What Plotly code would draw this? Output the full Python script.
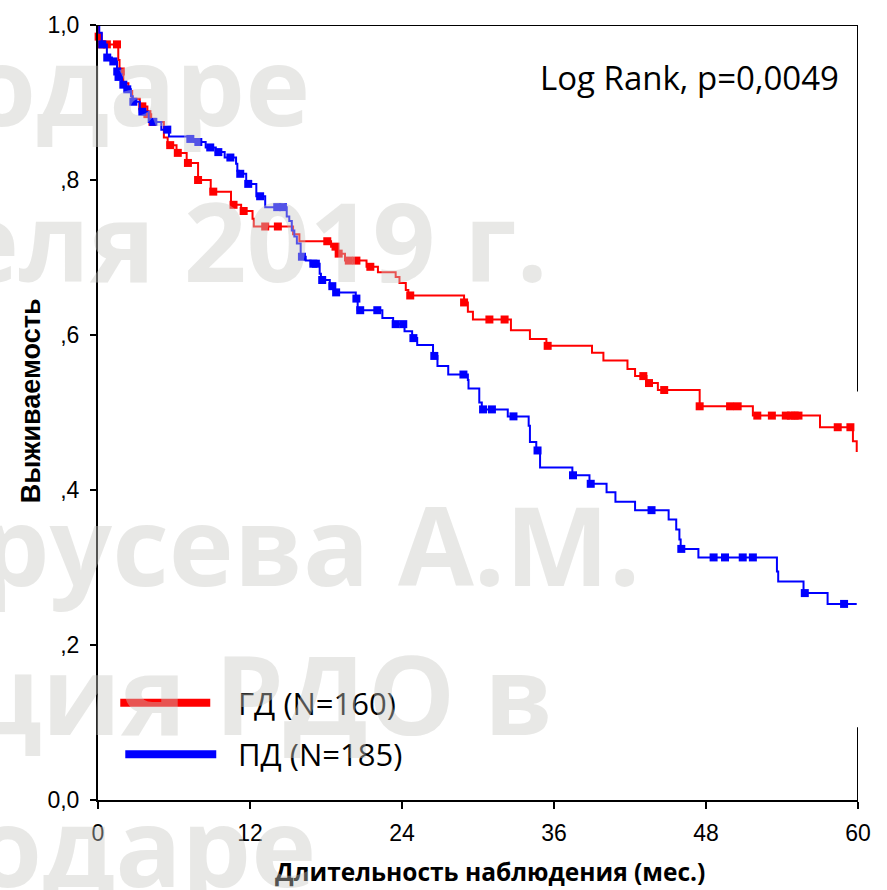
import numpy as np
import plotly.graph_objects as go

# ---------------- data ----------------
# ГД group (red): Kaplan-Meier step times (months) and survival after each step
gd_event_t = [0.05, 0.25, 1.6, 1.7, 2.0, 2.4, 2.7, 3.3, 3.9, 4.2, 5.2, 5.5, 6.2, 7.0, 7.9,
              8.9, 10.5, 11.3, 12.2, 12.3, 15.4, 15.9, 18.4, 18.9, 19.5, 21.2, 22.1, 23.5,
              23.8, 24.3, 24.5, 28.9, 29.2, 29.6, 32.6, 34.1, 35.4, 39.0, 39.9, 41.8, 42.4,
              43.3, 44.2, 47.5, 51.7, 57.0, 59.6, 59.9]
gd_event_s = [0.985, 0.975, 0.955, 0.94, 0.925, 0.915, 0.905, 0.895, 0.885, 0.875, 0.855,
              0.845, 0.835, 0.822, 0.80, 0.785, 0.768, 0.76, 0.75, 0.74, 0.73, 0.721, 0.714,
              0.705, 0.696, 0.688, 0.681, 0.675, 0.667, 0.658, 0.651, 0.642, 0.63, 0.62,
              0.606, 0.595, 0.586, 0.577, 0.567, 0.556, 0.547, 0.538, 0.529, 0.508, 0.496,
              0.481, 0.463, 0.449]
gd_censor_t = [0.05, 0.25, 0.7, 1.5, 1.8, 3.5, 3.9, 4.3, 5.7, 6.3, 7.1, 7.9, 9.1, 10.7, 11.5,
               13.2, 14.2, 18.1, 18.75, 19.0, 19.8, 20.4, 21.5, 24.65, 28.9, 30.9, 32.1,
               35.5, 43.05, 43.5, 44.7, 47.5, 49.9, 50.5, 52.05, 53.2, 54.3, 54.7, 55.0,
               55.3, 58.4, 59.4]

# ПД group (blue)
pd_event_t = [0.1, 0.3, 0.7, 1.1, 1.5, 1.6, 1.9, 2.2, 2.6, 2.75, 3.3, 4.0, 5.0, 5.6, 7.1,
              7.6, 8.5, 9.3, 10.0, 10.9, 11.0, 11.1, 11.7, 12.5, 13.2, 14.9, 15.1, 15.3,
              15.5, 15.7, 16.0, 16.4, 16.8, 17.5, 17.6, 18.3, 18.7, 20.35, 20.5, 22.45,
              23.3, 24.2, 24.8, 25.2, 26.45, 26.8, 27.65, 29.2, 29.25, 30.1, 30.3, 32.35,
              34.0, 34.1, 34.6, 34.9, 37.45, 38.8, 40.15, 40.85, 42.4, 45.05, 45.65, 45.9,
              46.0, 47.4, 53.6, 53.7, 55.7, 57.6]
pd_event_s = [0.99, 0.975, 0.958, 0.953, 0.94, 0.933, 0.923, 0.917, 0.908, 0.901, 0.888,
              0.875, 0.865, 0.856, 0.853, 0.849, 0.842, 0.836, 0.829, 0.821, 0.812, 0.808,
              0.795, 0.779, 0.765, 0.753, 0.747, 0.735, 0.727, 0.718, 0.701, 0.696, 0.692,
              0.679, 0.671, 0.663, 0.655, 0.647, 0.632, 0.622, 0.614, 0.605, 0.596, 0.587,
              0.573, 0.56, 0.549, 0.542, 0.531, 0.513, 0.504, 0.495, 0.483, 0.462, 0.451,
              0.429, 0.419, 0.408, 0.397, 0.385, 0.374, 0.362, 0.349, 0.336, 0.324, 0.313,
              0.295, 0.282, 0.267, 0.253]
pd_censor_t = [0.34, 0.73, 1.21, 1.52, 1.62, 2.0, 2.31, 2.79, 3.5, 4.37, 5.47, 7.29, 7.92,
               8.86, 9.5, 10.45, 11.23, 11.86, 12.8, 14.15, 14.6, 16.1, 17.0, 17.2, 17.7,
               18.5, 18.8, 20.4, 20.7, 22.05, 23.5, 24.1, 24.9, 26.55, 28.85, 30.4, 31.1,
               32.8, 34.7, 37.5, 38.9, 43.7, 46.05, 48.6, 49.5, 50.9, 51.7, 55.8, 58.9]

follow_up_end = 59.9
x_ticks = [0, 12, 24, 36, 48, 60]
y_ticks = [0.0, 0.2, 0.4, 0.6, 0.8, 1.0]
y_ticktext = ["0,0", ",2", ",4", ",6", ",8", "1,0"]
group_labels = ["ГД (N=160)", "ПД (N=185)"]
logrank_text = "Log Rank, p=0,0049"
watermark_lines = ["одаре", "еля 2019 г.", "русева А.М.", "ция РДО в", "одаре"]

RED = "#ff0000"
BLUE = "#0000ff"


def km_line(ev_t, ev_s, end):
    xs = [0.0] + list(ev_t) + [end]
    ys = [1.0] + list(ev_s) + [ev_s[-1]]
    return xs, ys


def censor_y(ev_t, ev_s, ct):
    ev_t = np.asarray(ev_t)
    ev_s = np.asarray(ev_s)
    idx = np.searchsorted(ev_t, np.asarray(ct), side="right") - 1
    return np.where(idx >= 0, ev_s[np.clip(idx, 0, None)], 1.0)


fig = go.Figure()
for ev_t, ev_s, ct, col in [(gd_event_t, gd_event_s, gd_censor_t, RED),
                            (pd_event_t, pd_event_s, pd_censor_t, BLUE)]:
    xs, ys = km_line(ev_t, ev_s, follow_up_end)
    fig.add_trace(go.Scatter(x=xs, y=ys, mode="lines", line=dict(color=col, width=2, shape="hv"),
                             showlegend=False, hoverinfo="skip", cliponaxis=False))
    fig.add_trace(go.Scatter(x=ct, y=censor_y(ev_t, ev_s, ct), mode="markers",
                             marker=dict(symbol="square", size=8, color=col, line=dict(width=0)),
                             showlegend=False, cliponaxis=False))

tickfont = dict(family="Liberation Sans, Arial", size=23, color="black")
fig.update_xaxes(range=[0, 60], tickvals=x_ticks, ticks="outside", ticklen=7, tickwidth=2,
                 tickcolor="black", showline=True, linewidth=2, linecolor="black",
                 showgrid=False, zeroline=False, tickfont=tickfont, ticklabelstandoff=4)
fig.update_yaxes(range=[0, 1], tickvals=y_ticks, ticktext=y_ticktext, ticks="outside",
                 ticklen=6, tickwidth=2, tickcolor="black", showline=True, linewidth=2,
                 linecolor="black", showgrid=False, zeroline=False, tickfont=tickfont,
                 ticklabelstandoff=6)

# frame: top line and (broken) right line
fig.add_shape(type="line", xref="x", yref="y", x0=0, x1=60, y0=1, y1=1,
              line=dict(color="black", width=2))
fig.add_shape(type="line", xref="x", yref="y", x0=60, x1=60, y0=0.527, y1=1,
              line=dict(color="black", width=2))
fig.add_shape(type="line", xref="x", yref="y", x0=60, x1=60, y0=0, y1=0.094,
              line=dict(color="black", width=2))

# custom legend
fig.add_shape(type="line", xref="paper", yref="paper", x0=0.0293, x1=0.1477, y0=0.1256, y1=0.1256,
              line=dict(color=RED, width=8))
fig.add_shape(type="line", xref="paper", yref="paper", x0=0.0359, x1=0.1556, y0=0.059, y1=0.059,
              line=dict(color=BLUE, width=8))
legfont = dict(family="Open Sans", size=31, color="black")
fig.add_annotation(xref="paper", yref="paper", x=0.1815, y=0.1256, text=group_labels[0],
                   showarrow=False, xanchor="left", yanchor="middle", font=legfont)
fig.add_annotation(xref="paper", yref="paper", x=0.1815, y=0.059, text=group_labels[1],
                   showarrow=False, xanchor="left", yanchor="middle", font=legfont)

fig.add_annotation(xref="paper", yref="paper", x=0.977, y=0.932, text=logrank_text,
                   showarrow=False, xanchor="right", yanchor="middle",
                   font=dict(family="Open Sans", size=33, color="black"))

# axis titles
fig.add_annotation(xref="paper", yref="paper", x=0.516, y=-0.0923,
                   text="Длительность наблюдения (мес.)", showarrow=False,
                   xanchor="center", yanchor="middle",
                   font=dict(family="Open Sans", size=24.5, color="black", weight="bold"))
fig.add_annotation(xref="paper", yref="paper", x=-0.0877, y=0.515, text="Выживаемость",
                   showarrow=False, textangle=-90, xanchor="center", yanchor="middle",
                   font=dict(family="Liberation Sans, Arial", size=27, color="black", weight="bold"))

# semi-transparent watermark overlay
wm_pos = [(0.2819, 0.9256), (0.595, 0.7244), (0.716, 0.332), (0.6015, 0.1397), (0.2897, -0.0564)]
for txt, (wx, wy) in zip(watermark_lines, wm_pos):
    fig.add_annotation(xref="paper", yref="paper", x=wx, y=wy, text=txt, showarrow=False,
                       xanchor="right", yanchor="middle",
                       font=dict(family="Open Sans", size=110, color="rgba(200,200,196,0.42)",
                                 weight="bold"))

fig.update_layout(width=887, height=890, margin=dict(l=98, r=29, t=20, b=90),
                  paper_bgcolor="white", plot_bgcolor="white", showlegend=False)

fig.write_html("out.html")
